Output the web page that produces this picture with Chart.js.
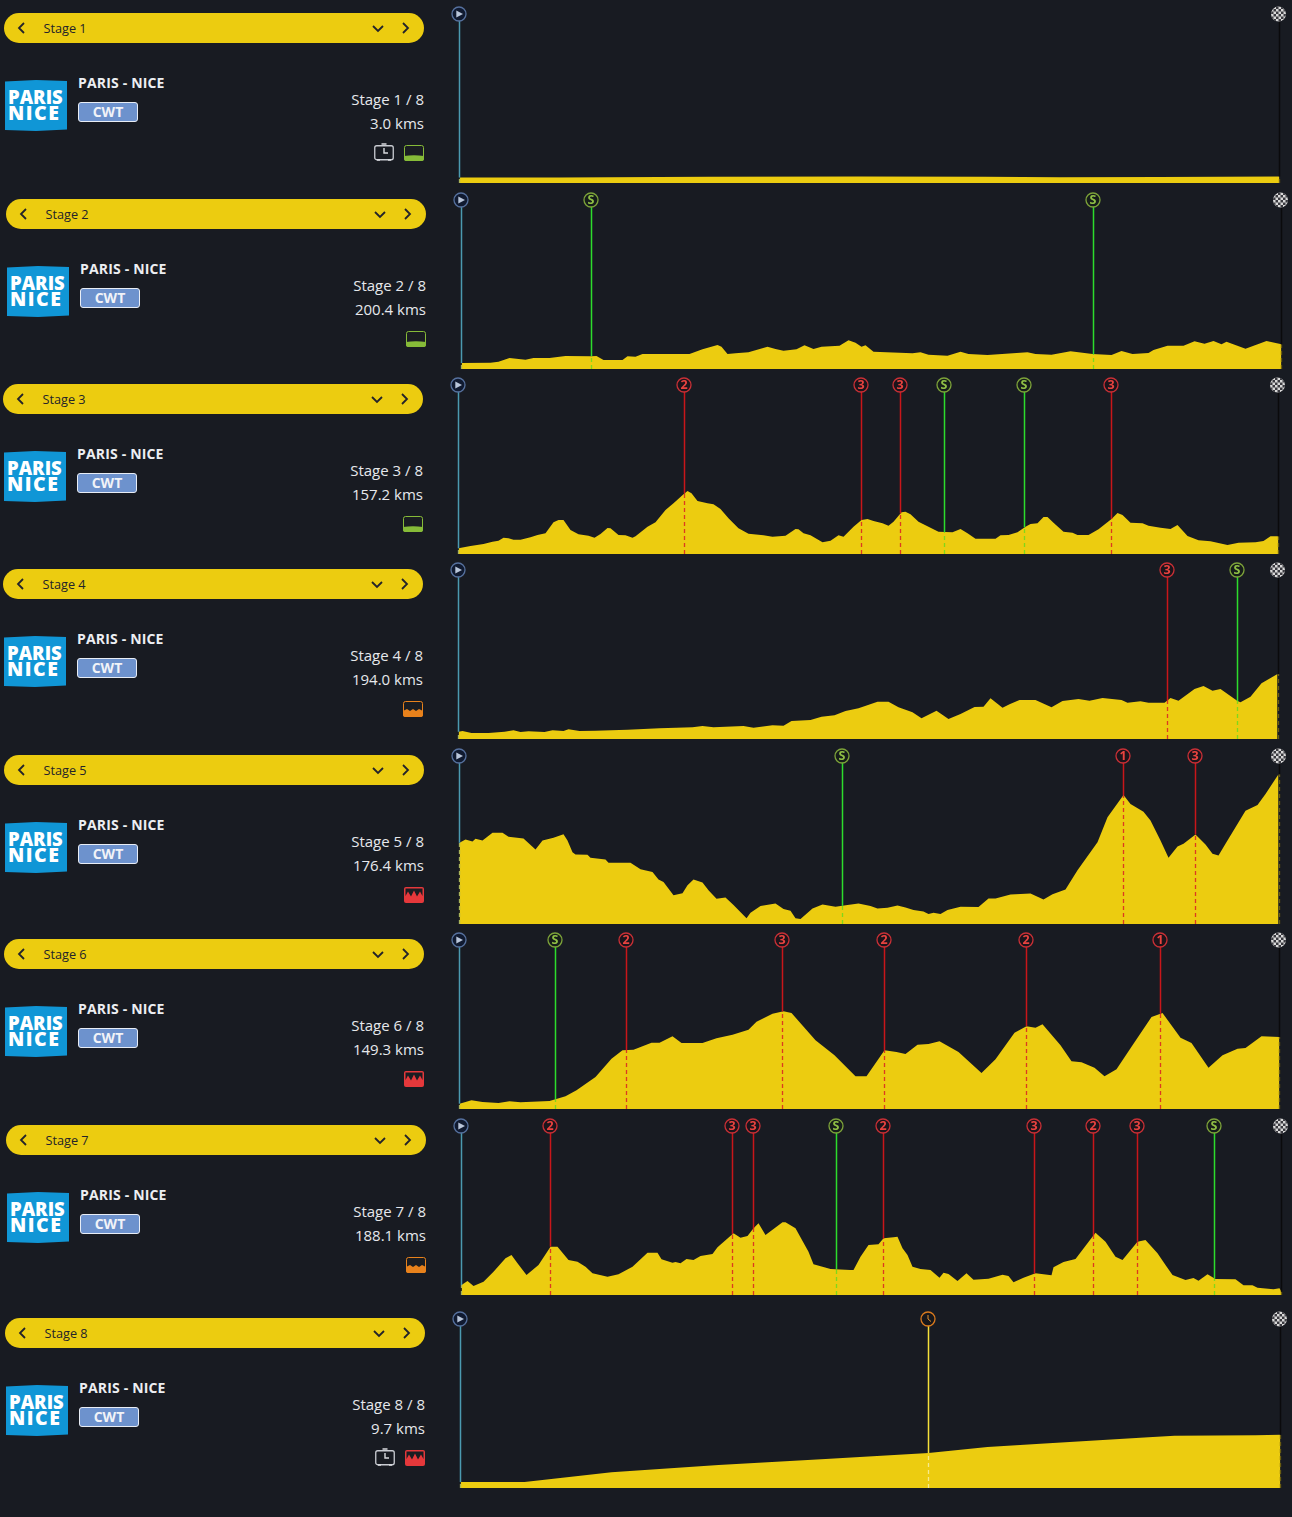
<!DOCTYPE html>
<html><head><meta charset="utf-8">
<script src="https://cdn.jsdelivr.net/npm/chart.js@4"></script>
<style>
html,body{margin:0;padding:0;background:#181b22;width:1292px;height:1517px;overflow:hidden;font-family:"Open Sans",sans-serif}
.a{position:absolute;white-space:nowrap}
.a>svg{display:block}
.bar{height:30px;width:420px;border-radius:15px;background:#eccc10}
.bar span{position:absolute;left:39.5px;top:6px;font-size:12.7px;line-height:18px;color:#23232a}
.bar svg{position:absolute;top:8px}
.logo{width:62px;height:51px;background:#1096d6;color:#fff;font-weight:800;clip-path:polygon(0 3%,50% 0,100% 2%,100% 97%,50% 100%,0 98%)}
.logo b{position:absolute;left:3px;font-weight:800;line-height:18px}
.title{font-weight:700;font-size:14px;line-height:18px;color:#eceef2;letter-spacing:.17px}
.badge{width:58px;height:18px;border:1px solid #e8edf5;border-radius:3px;background:#6d92cd;color:#f1f3f8;font-weight:700;font-size:14px;line-height:18px;text-align:center}
.info{font-size:15px;line-height:20px;color:#e6e8ec;text-align:right;width:120px}
canvas{position:absolute}
</style></head><body>
<script>
// ---- data: route position runs 0-820 along each stage, elevation in metres (estimated)
const stageNames = ["Stage 1","Stage 2","Stage 3","Stage 4","Stage 5","Stage 6","Stage 7","Stage 8"];
const stageCounts = ["Stage 1 / 8","Stage 2 / 8","Stage 3 / 8","Stage 4 / 8","Stage 5 / 8","Stage 6 / 8","Stage 7 / 8","Stage 8 / 8"];
const stageDistances = ["3.0 kms","200.4 kms","157.2 kms","194.0 kms","176.4 kms","149.3 kms","188.1 kms","9.7 kms"];
const stageDifficulty = ["flat","flat","flat","hilly","mountain","mountain","hilly","mountain"];
const stageTimeTrial = [true,false,false,false,false,false,false,true];
const raceName = "PARIS - NICE";
const raceClass = "CWT";

const stage1Route = [0,100,250,400,525,600,700,820];
const stage1Elev = [55,55,63,65,63,58,60,65];
const stage1MarkRoute = [];
const stage1MarkKind = [];

const stage2Route = [0,29,37,48,64,72,88,104,129,135,142,161,166,174,181,228,241,256,260,266,274,287,306,314,322,335,343,352,360,378,387,394,400,404,412,451,459,467,486,499,507,526,566,574,590,609,631,650,660,671,687,692,706,722,733,743,752,760,765,784,805,820];
const stage2Elev = [60,63,73,110,93,110,110,130,127,130,90,90,127,123,150,150,197,240,223,150,157,167,223,200,183,197,237,200,223,233,287,263,223,237,173,157,167,143,133,173,150,140,167,150,143,177,150,140,180,150,160,190,233,233,277,253,280,247,273,203,280,247];
const stage2MarkRoute = [130,632];
const stage2MarkKind = ["S","S"];

const stage3Route = [0,12,25,34,40,45,50,55,62,72,79,87,95,100,105,112,120,130,136,142,149,152,160,167,174,177,189,197,207,215,225,229,233,239,249,255,262,270,280,290,305,314,327,337,340,345,352,364,372,380,385,395,403,409,415,424,430,435,443,447,452,460,470,480,494,502,509,517,537,542,550,559,567,572,579,585,589,595,605,614,619,630,640,653,659,664,672,684,690,702,712,719,729,740,752,769,780,797,805,812,820];
const stage3Elev = [57,80,100,123,133,163,157,143,143,167,190,207,317,340,340,240,197,183,163,200,260,257,190,187,163,177,273,317,440,507,597,630,607,530,507,497,450,357,257,203,187,173,183,250,247,207,187,117,133,187,173,273,340,350,330,307,283,323,417,423,397,323,273,223,217,250,207,153,153,187,190,217,273,300,307,370,370,313,223,213,190,190,247,350,410,390,313,307,283,263,250,290,180,137,127,90,113,117,130,177,177];
const stage3MarkRoute = [226,403,442,486,566,653];
const stage3MarkKind = ["2","3","3","S","S","3"];

const stage4Route = [0,4,13,30,46,55,62,70,86,94,105,110,121,137,169,201,234,244,255,285,295,314,325,333,352,363,376,387,400,419,430,440,454,463,478,490,502,516,525,532,544,551,561,577,593,604,620,631,644,663,669,682,690,706,712,720,736,745,754,762,779,782,792,803,819];
const stage4Elev = [73,80,60,60,73,87,70,77,70,87,80,97,80,83,93,107,117,130,117,130,113,137,133,180,190,223,237,280,307,373,373,317,267,207,283,200,250,320,323,407,313,347,390,390,317,380,400,383,410,390,363,377,363,363,410,383,500,530,483,500,380,367,423,557,650];
const stage4MarkRoute = [709,779];
const stage4MarkKind = ["3","S"];

const stage5Route = [0,6,13,16,23,33,43,49,64,76,83,94,104,108,113,116,128,131,146,149,171,181,193,199,204,214,223,228,234,243,249,257,266,274,287,291,301,316,324,331,336,341,353,363,376,388,399,411,418,428,438,446,454,464,469,474,481,488,501,519,529,536,551,571,584,593,606,618,638,648,664,671,684,691,701,709,718,724,736,746,753,759,766,786,798,806,819];
const stage5Elev = [817,850,830,857,840,917,917,877,860,750,840,867,903,840,723,700,697,667,650,617,617,550,523,447,423,290,310,390,447,417,340,253,267,190,57,113,180,207,150,133,57,50,157,197,173,190,207,180,157,163,187,167,140,127,100,113,100,140,173,170,257,257,297,307,247,300,347,540,823,1073,1297,1207,1130,1040,840,667,780,807,900,800,707,690,807,1140,1197,1307,1507];
const stage5MarkRoute = [383,664,736];
const stage5MarkKind = ["S","1","3"];

const stage6Route = [0,12,23,39,50,61,90,106,117,136,152,163,174,192,200,213,222,243,257,273,289,297,313,324,332,356,375,396,407,425,437,446,458,469,480,499,522,536,555,567,576,583,601,612,622,635,645,657,673,692,703,721,732,749,763,778,786,802,820];
const stage6Elev = [53,87,70,60,77,67,80,127,187,320,503,587,593,663,663,727,660,660,707,743,793,873,953,977,960,687,537,327,327,587,570,550,643,650,677,570,360,497,763,827,813,847,637,477,467,413,327,397,637,920,960,713,660,413,537,603,610,727,720];
const stage6MarkRoute = [96,167,323,425,567,701];
const stage6MarkKind = ["S","2","3","2","2","1"];

const stage7Route = [0,6,12,22,32,44,50,56,65,77,89,96,107,116,124,131,146,157,171,186,196,200,211,214,219,225,232,239,251,256,272,279,286,292,297,304,321,324,334,347,352,369,389,392,399,407,417,422,432,436,441,446,451,459,469,478,482,487,496,505,512,527,541,547,552,562,574,590,592,602,614,634,644,654,661,676,684,696,704,711,724,732,737,746,754,774,782,791,796,812,818,820];
const stage7Elev = [100,140,90,133,233,367,400,317,200,300,483,483,350,333,283,217,183,207,283,423,423,357,323,330,317,360,350,390,410,477,617,573,590,667,717,600,727,727,667,433,307,260,250,250,383,500,507,567,577,583,467,400,283,260,250,173,223,210,140,217,153,163,203,190,127,173,217,197,277,330,360,623,533,383,350,533,550,417,300,200,150,170,143,207,160,157,97,97,73,57,67,33];
const stage7MarkRoute = [89,271,292,375,422,573,632,676,753];
const stage7MarkKind = ["2","3","3","S","2","3","2","3","S"];

const stage8Route = [0,64,151,258,365,468,527,580,688,714,795,820];
const stage8Elev = [60,60,157,230,290,350,410,443,507,523,527,533];
const stage8MarkRoute = [468];
const stage8MarkKind = ["clock"];

// ---- layout and style
const rowX = [0,2,-1,-1,0,0,2,1];
const rowY = [0,186,371,556,742,926,1112,1305];
const rowTrim = [0,0,0,0,1,0,0,0];
const routeMax = 820, elevMax = 1690;
const stages = [
 [stage1Route,stage1Elev,stage1MarkRoute,stage1MarkKind],[stage2Route,stage2Elev,stage2MarkRoute,stage2MarkKind],
 [stage3Route,stage3Elev,stage3MarkRoute,stage3MarkKind],[stage4Route,stage4Elev,stage4MarkRoute,stage4MarkKind],
 [stage5Route,stage5Elev,stage5MarkRoute,stage5MarkKind],[stage6Route,stage6Elev,stage6MarkRoute,stage6MarkKind],
 [stage7Route,stage7Elev,stage7MarkRoute,stage7MarkKind],[stage8Route,stage8Elev,stage8MarkRoute,stage8MarkKind]];
const YELLOW = "#eccc10";
const redStyle = {line:"#c8161a",dash:"#dd3a20",ring:"#c93036",text:"#e8433f",fill:"#1c141b"};
const kindStyle = {
 "1":redStyle,"2":redStyle,"3":redStyle,
 "S":{line:"#2cdc2c",dash:"#7fd81a",ring:"#7da33a",text:"#8fbf45",fill:"#161d1a"},
 "clock":{line:"#f5e03a",dash:"#f6ea8c",ring:"#d97a1e",text:"#e09030",fill:"#17171b"},
 "start":{line:"#4b9ab0",dash:"#a9b45a",ring:"#56719e",text:"#b9c6da",fill:"#101a30"},
 "finish":{line:"#0a0a0c",dash:"#6a5d10",ring:"#cfcfcf",text:"#fff",fill:"#222"}
};

function elevAt(route,elev,p){
  if(p<=route[0]) return elev[0];
  for(let i=1;i<route.length;i++){
    if(p<=route[i]) return elev[i-1]+(elev[i]-elev[i-1])*(p-route[i-1])/(route[i]-route[i-1]);
  }
  return elev[elev.length-1];
}

const iconPlugin = {
  id:"markerIcons",
  afterDraw(chart){
    const ctx=chart.ctx, xs=chart.scales.x, top=chart.chartArea.top;
    (chart.options.plugins.markerIcons.items||[]).forEach(m=>{
      const st=kindStyle[m.kind], cx=xs.getPixelForValue(m.pos), cy=top, r=7.5;
      ctx.save();
      if(m.kind==="finish"){
        ctx.beginPath();ctx.arc(cx-1,cy,r,0,Math.PI*2);ctx.fillStyle="#d8d8d8";ctx.fill();
        ctx.clip();ctx.fillStyle="#3a3a40";
        for(let ix=-4;ix<4;ix++)for(let iy=-4;iy<4;iy++){ if((ix+iy+8)%2===0) ctx.fillRect(cx-1+ix*2.5,cy+iy*2.5,2.5,2.5);}
      } else {
        ctx.beginPath();ctx.arc(cx-.5,cy,r-.5,0,Math.PI*2);ctx.fillStyle=st.fill;ctx.fill();
        ctx.lineWidth=1.3;ctx.strokeStyle=st.ring;ctx.stroke();
        if(m.kind==="start"){
          ctx.fillStyle=st.text;ctx.beginPath();ctx.moveTo(cx-3.2,cy-3.6);ctx.lineTo(cx+3.5,cy);ctx.lineTo(cx-3.2,cy+3.6);ctx.closePath();ctx.fill();
        } else if(m.kind==="clock"){
          ctx.strokeStyle=st.text;ctx.lineWidth=1;ctx.beginPath();ctx.moveTo(cx-.5,cy-4);ctx.lineTo(cx-.5,cy);ctx.lineTo(cx+2.5,cy+2.5);ctx.stroke();
        } else {
          ctx.fillStyle=st.text;ctx.font='700 12.5px "Open Sans"';ctx.textAlign="center";ctx.textBaseline="middle";
          ctx.fillText(m.kind,cx-.5,cy+.5);
        }
      }
      ctx.restore();
    });
  }
};

function lineDs(points,color,dash,width){
  return {data:points,borderColor:color,borderWidth:width||1.5,borderDash:dash||[],pointRadius:0,fill:false,tension:0,order:1,clip:false};
}

function buildChart(i){
  const [route,elev,mr,mk]=stages[i];
  const x0=459+rowX[i], y0=rowY[i];
  const cv=document.createElement("canvas");
  const padL=12.5,padR=11.5,padT=14,padB=3+rowTrim[i];
  cv.width=routeMax+padL+padR;cv.height=elevMax/10+14+3;
  cv.style.left=(x0-12)+"px";cv.style.top=y0+"px";
  document.body.appendChild(cv);
  const items=[{pos:0,kind:"start"}].concat(mr.map((p,k)=>({pos:p,kind:mk[k]})),[{pos:routeMax,kind:"finish"}]);
  const datasets=[{data:route.map((x,k)=>({x:x,y:elev[k]})),borderWidth:0,borderColor:YELLOW,backgroundColor:YELLOW,fill:"origin",pointRadius:0,tension:0,order:10,clip:false}];
  items.forEach(m=>{
    const h=elevAt(route,elev,m.pos), st=kindStyle[m.kind];
    datasets.push(lineDs([{x:m.pos,y:h},{x:m.pos,y:elevMax}],st.line));
    datasets.push(lineDs([{x:m.pos,y:0},{x:m.pos,y:h}],st.dash,[4,3],1.3));
  });
  new Chart(cv,{type:"line",data:{datasets},plugins:[iconPlugin],options:{
    responsive:false,animation:false,events:[],
    layout:{padding:{left:padL,right:padR,top:padT,bottom:padB}},
    scales:{x:{type:"linear",display:false,min:0,max:routeMax},y:{display:false,min:0,max:elevMax}},
    plugins:{legend:{display:false},tooltip:{enabled:false},markerIcons:{items}}
  }});
}

function el(cls,x,y,html){const d=document.createElement("div");d.className="a "+cls;d.style.left=x+"px";d.style.top=y+"px";if(html!==undefined)d.innerHTML=html;document.body.appendChild(d);return d;}
const chev=(x,pts)=>`<svg style="left:${x}px" width="14" height="14" viewBox="0 0 14 14"><polyline points="${pts}" fill="none" stroke="#23232a" stroke-width="1.8"/></svg>`;
function diffIcon(kind){
  if(kind==="flat") return `<svg width="20" height="16" viewBox="0 0 20 16"><rect x=".5" y=".5" width="19" height="15" rx="2" fill="#1a1d22" stroke="#86bb38"/><path d="M0 11 Q10 9.5 20 11 L20 14 Q20 16 18 16 L2 16 Q0 16 0 14Z" fill="#86bb38"/></svg>`;
  if(kind==="hilly") return `<svg width="20" height="16" viewBox="0 0 20 16"><rect x=".5" y=".5" width="19" height="15" rx="2" fill="#1a1d22" stroke="#e8821c"/><path d="M0 10 L4 8 L7 10 L10 8 L13 10 L16 8 L20 10 L20 14 Q20 16 18 16 L2 16 Q0 16 0 14Z" fill="#e8821c"/></svg>`;
  return `<svg width="20" height="16" viewBox="0 0 20 16"><rect width="20" height="16" rx="2" fill="#e5383b"/><path d="M1.5 1.5 H18.5 V9 L16 4.5 L13 9.5 L10 3.5 L7 9.5 L4 4.5 L1.5 9Z" fill="#1a1d22"/></svg>`;
}
const ttIcon=`<svg width="20" height="18" viewBox="0 0 20 18"><rect x=".75" y="2.75" width="18.5" height="14" rx="2" fill="none" stroke="#c9ccd2" stroke-width="1.3"/><path d="M7.5 1 H12.5 M10 5 V10 H14 M3 17 H6 M14 17 H17" fill="none" stroke="#d8dade" stroke-width="1.4"/></svg>`;

function buildSide(i){
  const x=rowX[i], y=rowY[i];
  const b=el("bar",4+x,13+y);
  b.innerHTML=chev(11,"9,2 4,7 9,12")+`<span>${stageNames[i]}</span>`+chev(367,"2,5 7,10 12,5")+chev(394,"5,2 10,7 5,12");
  const l=el("logo",5+x,80+y);
  l.innerHTML=`<b style="top:8px;font-size:18.5px">PARIS</b><b style="top:24px;font-size:19.5px;letter-spacing:1.5px">NICE</b>`;
  el("title",78+x,74+y,raceName);
  el("badge",78+x,102+y,raceClass);
  el("info",304+x,89+y,stageCounts[i]);
  el("info",304+x,113+y,stageDistances[i]);
  el("",404+x,145+y,diffIcon(stageDifficulty[i]));
  if(stageTimeTrial[i]) el("",374+x,143+y,ttIcon);
}

for(let i=0;i<8;i++){buildSide(i);buildChart(i);}
</script>
</body></html>
